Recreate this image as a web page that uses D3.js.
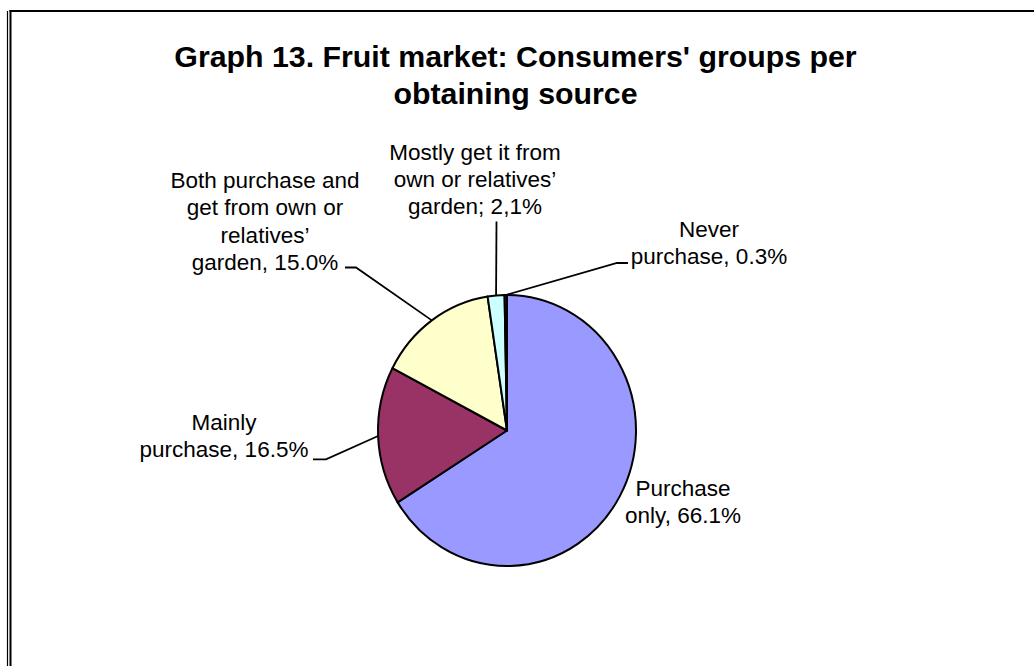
<!DOCTYPE html>
<html>
<head>
<meta charset="utf-8">
<script src="https://cdn.jsdelivr.net/npm/d3@7/dist/d3.min.js"></script>
<style>
  html, body { margin: 0; padding: 0; background: #fff; }
  svg { display: block; font-family: "Liberation Sans", Arial, sans-serif; }
</style>
</head>
<body>
<svg id="chart" width="1034" height="666"></svg>
<script>
// ---- data ----
const categories = ["Purchase only", "Mainly purchase", "Both purchase and get from own or relatives' garden", "Mostly get it from own or relatives' garden", "Never purchase"];
const values = [66.1, 16.5, 15.0, 2.1, 0.3];
const colors = ["#9999FF", "#993366", "#FFFFCC", "#CCFFFF", "#660066"];
const labelLines = [
  ["Purchase", "only, 66.1%"],
  ["Mainly", "purchase, 16.5%"],
  ["Both purchase and", "get from own or", "relatives\u2019", "garden, 15.0%"],
  ["Mostly get it from", "own or relatives\u2019", "garden; 2,1%"],
  ["Never", "purchase, 0.3%"]
];
const titleLines = ["Graph 13. Fruit market: Consumers' groups per", "obtaining source"];

// ---- layout ----
const W = 1034, H = 666;
const cx = 507, cy = 430.5, r = 129, ry = 135.5;
const sy = ry / r;
const labelPos = [
  {x: 683, y: 496},
  {x: 224, y: 430},
  {x: 265, y: 188},
  {x: 475, y: 159.5},
  {x: 709, y: 237}
];
const leaders = [
  null,
  {start: [313, 459.3], elbow: [326, 459.3]},
  {start: [345, 267.5], elbow: [356, 267.5]},
  {start: [496.5, 221.5], elbow: [496.5, 221.5]},
  {start: [628, 263], elbow: [617, 263]}
];
const lineH = 27.3;
const fontSize = 22.5;

const svg = d3.select("#chart");

// frame
svg.append("line").attr("x1", 7.5).attr("x2", 7.5).attr("y1", 11).attr("y2", H)
  .attr("stroke", "#000").attr("stroke-width", 1.2);
svg.append("line").attr("x1", 10.5).attr("x2", 10.5).attr("y1", 10).attr("y2", H)
  .attr("stroke", "#000").attr("stroke-width", 2);
svg.append("line").attr("x1", 9.5).attr("x2", W).attr("y1", 11).attr("y2", 11)
  .attr("stroke", "#000").attr("stroke-width", 2);

// title
svg.append("text")
  .attr("text-anchor", "middle")
  .attr("font-weight", "bold")
  .attr("font-size", 30.3)
  .attr("fill", "#000")
  .selectAll("tspan").data(titleLines).join("tspan")
  .attr("x", 515.5).attr("y", (d, i) => 67 + i * 37)
  .text(d => d);

// pie
const data = categories.map((c, i) => ({name: c, value: values[i], color: colors[i], i}));
const pie = d3.pie().value(d => d.value).sort(null).startAngle(0).endAngle(2 * Math.PI);
const arcs = pie(data);
const arc = d3.arc().innerRadius(0).outerRadius(r);

const g = svg.append("g").attr("transform", `translate(${cx},${cy}) scale(1,${sy})`);
g.selectAll("path").data(arcs).join("path")
  .attr("d", arc)
  .attr("fill", d => d.data.color)
  .attr("stroke", "#000")
  .attr("stroke-width", 2)
  .attr("stroke-linejoin", "round")
  .attr("vector-effect", "non-scaling-stroke");

// leader lines
arcs.forEach((a, i) => {
  const L = leaders[i];
  if (!L) return;
  const mid = (a.startAngle + a.endAngle) / 2;
  const ex = cx + r * Math.sin(mid);
  const ey = cy - ry * Math.cos(mid);
  svg.append("polyline")
    .attr("points", [L.start, L.elbow, [ex, ey]].map(p => p.join(",")).join(" "))
    .attr("fill", "none")
    .attr("stroke", "#000")
    .attr("stroke-width", 1.8);
});

// labels
arcs.forEach((a, i) => {
  const p = labelPos[i];
  svg.append("text")
    .attr("text-anchor", "middle")
    .attr("font-size", fontSize)
    .attr("fill", "#000")
    .selectAll("tspan").data(labelLines[i]).join("tspan")
    .attr("x", p.x)
    .attr("y", (d, k) => p.y + k * lineH)
    .text(d => d);
});
</script>
</body>
</html>
